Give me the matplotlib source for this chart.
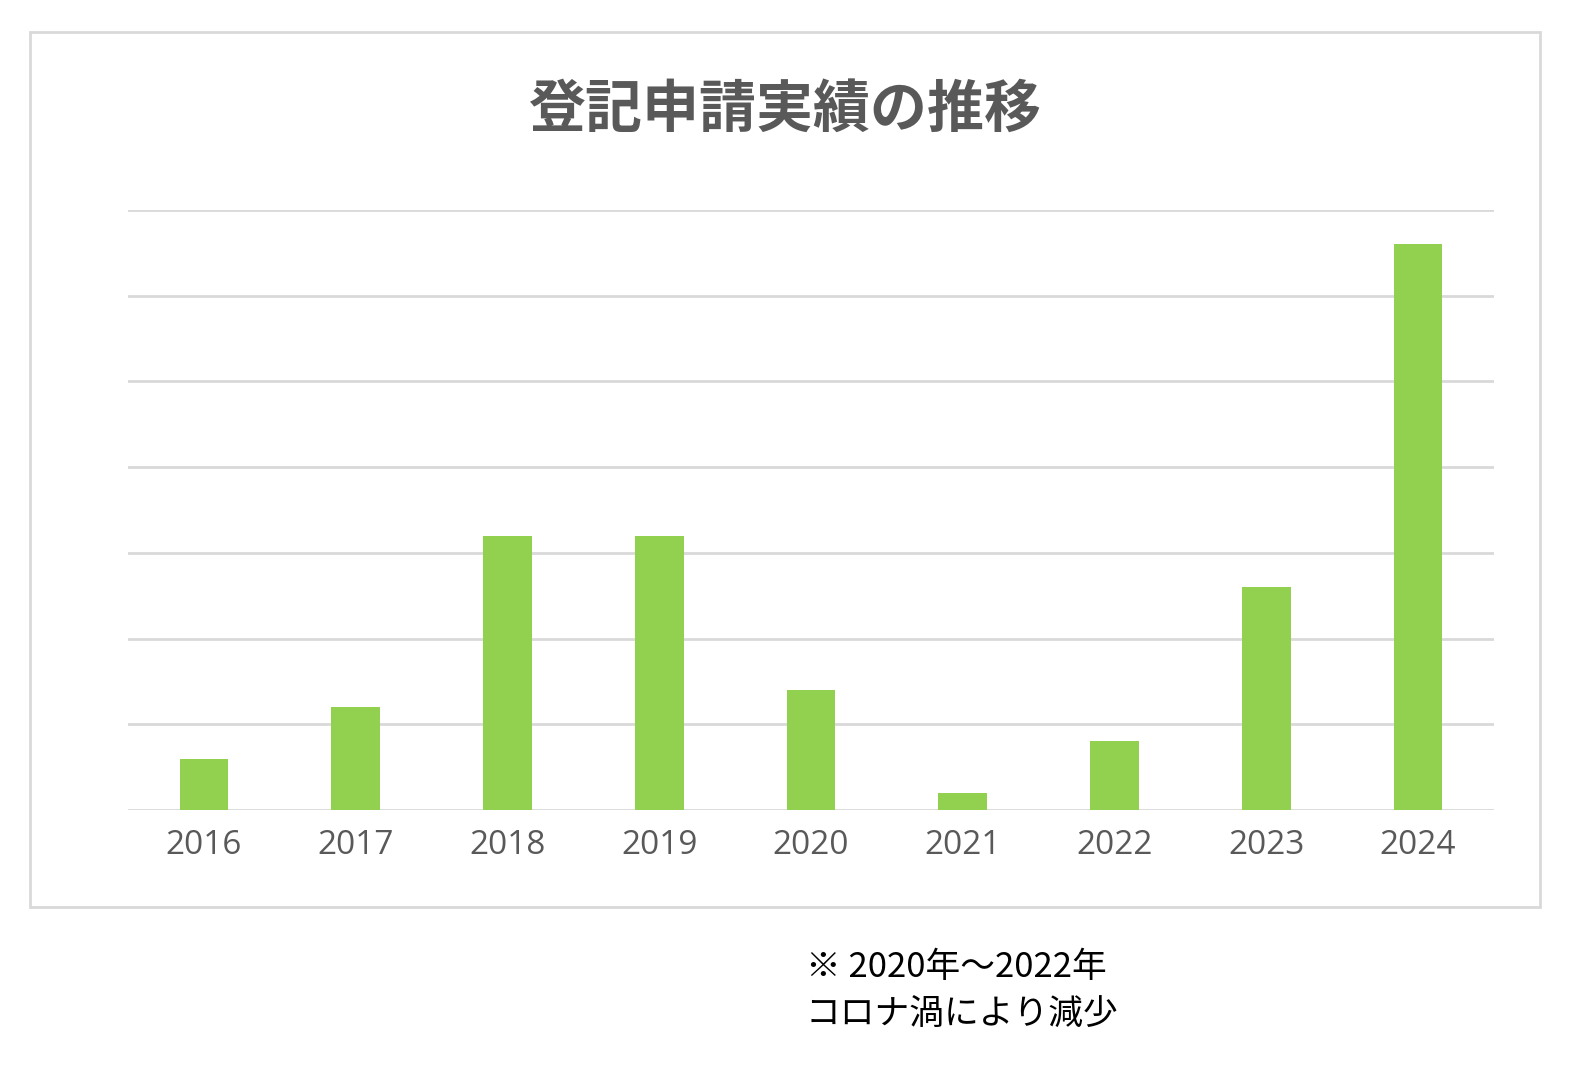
import matplotlib
matplotlib.use("Agg")
import matplotlib.pyplot as plt
from matplotlib.patches import Rectangle

years = ["2016","2017","2018","2019","2020","2021","2022","2023","2024"]
values = [3, 6, 16, 16, 7, 1, 4, 13, 33]
yticks = [0,5,10,15,20,25,30,35]

fig = plt.figure(figsize=(15.9,10.67), dpi=100)
fig.patches.append(Rectangle((30/1590, 1-907/1067), 1510/1590, 875/1067, transform=fig.transFigure,
                             fill=False, edgecolor="#d9d9d9", linewidth=2))
ax = fig.add_axes([128/1590, 1-810/1067, 1366/1590, 600/1067])
x = range(len(years))
ax.bar(x, values, width=0.32, color="#92d050", zorder=3)
ax.set_xlim(-0.5, len(years)-0.5)
ax.set_ylim(0, 35)
ax.set_yticks(yticks)
ax.set_yticklabels([])
ax.tick_params(axis="y", length=0)
ax.tick_params(axis="x", length=0, labelsize=24, labelcolor="#595959", pad=14)
ax.set_xticks(list(x))
ax.set_xticklabels(years, fontfamily="Open Sans")
ax.grid(axis="y", color="#d9d9d9", linewidth=2, zorder=0)
for s in ax.spines.values():
    s.set_visible(False)
fig.text(785/1590, 1-110/1067, "登記申請実績の推移", ha="center", va="center",
         fontsize=41, fontweight="bold", color="#595959", fontfamily="Noto Sans CJK JP")
fig.text(806/1590, 1-967/1067, "※ 2020年～2022年", ha="left", va="center",
         fontsize=25, color="black", fontfamily="Noto Sans CJK JP")
fig.text(806/1590, 1-1015/1067, "コロナ渦により減少", ha="left", va="center",
         fontsize=25, color="black", fontfamily="Noto Sans CJK JP")
fig.savefig("out.png", dpi=100)
